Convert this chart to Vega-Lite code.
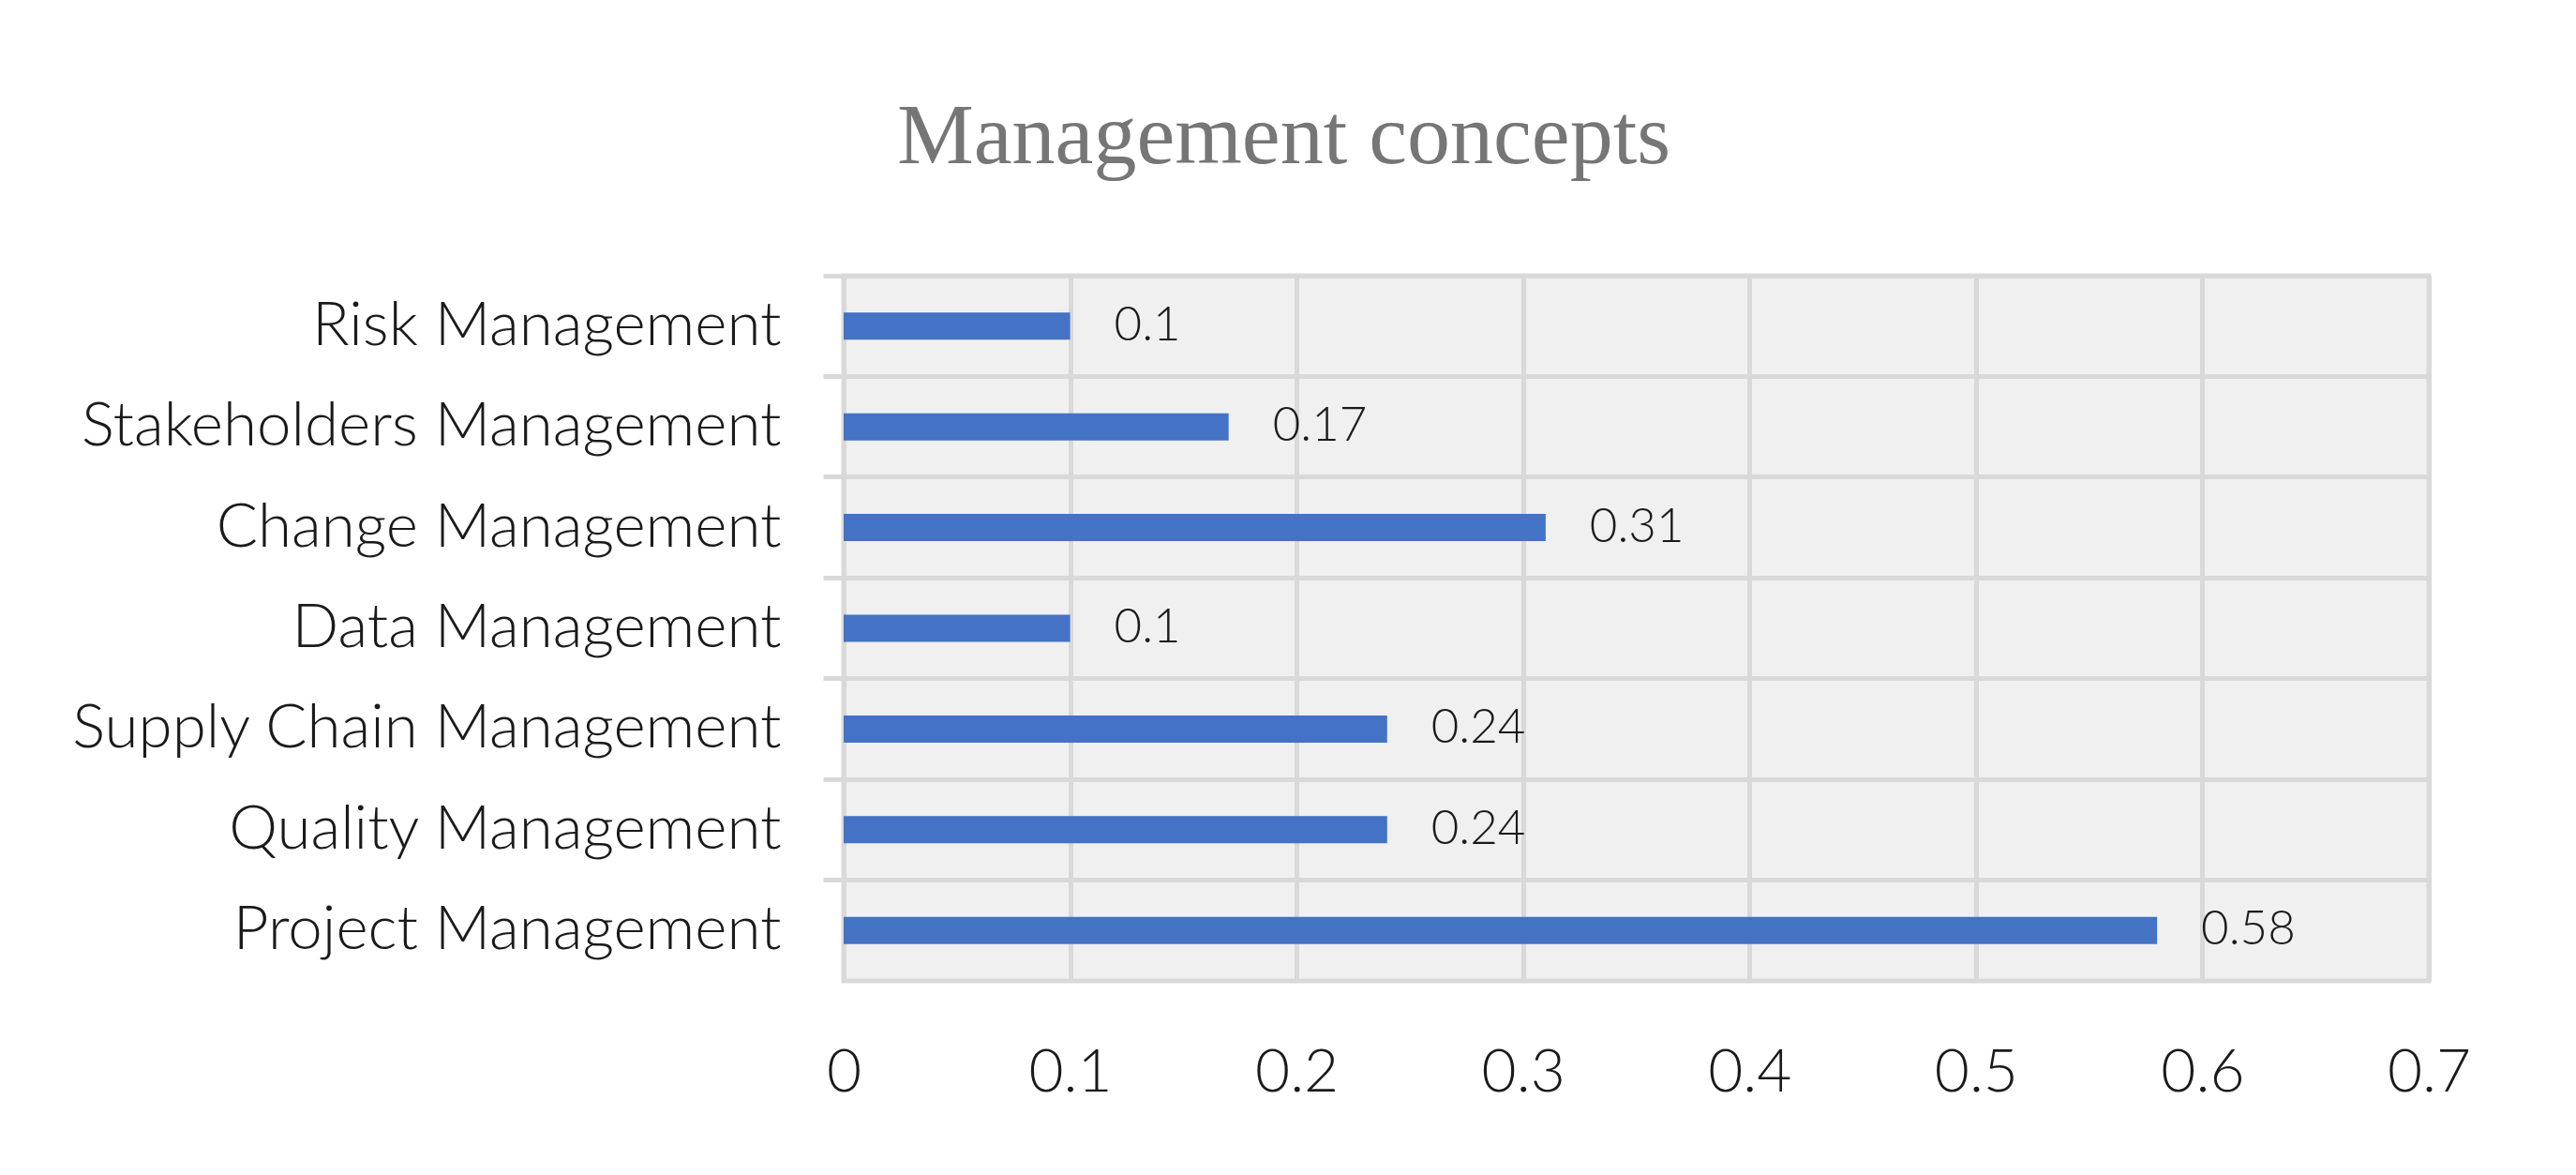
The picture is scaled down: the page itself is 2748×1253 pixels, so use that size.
{
  "$schema": "https://vega.github.io/schema/vega-lite/v6.json",
  "width": 1691,
  "height": 752,
  "autosize": {"type": "none"},
  "padding": {"left": 900, "top": 294, "right": 157, "bottom": 207},
  "background": "white",
  "title": {
    "text": "Management concepts",
    "font": "Liberation Serif",
    "fontSize": 92,
    "fontWeight": "normal",
    "color": "#767676",
    "anchor": "middle",
    "dx": -376,
    "baseline": "alphabetic",
    "offset": 26
  },
  "data": {
    "values": [
      {"concept": "Risk Management", "value": 0.1},
      {"concept": "Stakeholders Management", "value": 0.17},
      {"concept": "Change Management", "value": 0.31},
      {"concept": "Data Management", "value": 0.1},
      {"concept": "Supply Chain Management", "value": 0.24},
      {"concept": "Quality Management", "value": 0.24},
      {"concept": "Project Management", "value": 0.58}
    ]
  },
  "encoding": {
    "y": {
      "field": "concept",
      "type": "nominal",
      "sort": null,
      "scale": {"paddingInner": 0, "paddingOuter": 0},
      "axis": {
        "title": null,
        "bandPosition": 0,
        "grid": true,
        "gridColor": "#d9d9d9",
        "gridWidth": 5,
        "ticks": true,
        "tickColor": "#d9d9d9",
        "tickWidth": 5,
        "tickSize": 22,
        "domain": true,
        "domainColor": "#d9d9d9",
        "domainWidth": 5,
        "labelFont": "Lato",
        "labelFontSize": 65.5,
        "labelFontWeight": 300,
        "labelColor": "#1a1a1a",
        "labelPadding": 45,
        "labelLimit": 1000
      }
    },
    "x": {
      "field": "value",
      "type": "quantitative",
      "scale": {"domain": [0, 0.7], "nice": false},
      "axis": {
        "title": null,
        "values": [0, 0.1, 0.2, 0.3, 0.4, 0.5, 0.6, 0.7],
        "format": ".1~f",
        "grid": true,
        "gridColor": "#d9d9d9",
        "gridWidth": 5,
        "ticks": false,
        "tickSize": 0,
        "domain": false,
        "labelFont": "Lato",
        "labelFontSize": 64,
        "labelFontWeight": 300,
        "labelColor": "#1a1a1a",
        "labelPadding": 66,
        "labelFlush": false
      }
    }
  },
  "layer": [
    {"mark": {"type": "bar", "color": "#4472c4", "size": 29}},
    {
      "mark": {"type": "text", "align": "left", "baseline": "middle", "dx": 47, "font": "Lato", "fontSize": 51, "fontWeight": 300, "color": "#1a1a1a"},
      "encoding": {"text": {"field": "value", "type": "quantitative"}}
    }
  ],
  "config": {
    "view": {"fill": "#f0f0f0", "stroke": "#d9d9d9", "strokeWidth": 5}
  }
}
